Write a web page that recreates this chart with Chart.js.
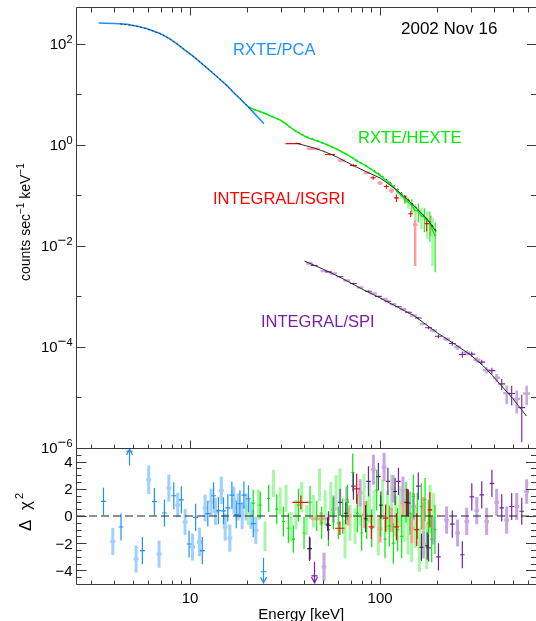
<!DOCTYPE html>
<html><head><meta charset="utf-8">
<script src="https://cdn.jsdelivr.net/npm/chart.js@4.4.1/dist/chart.umd.min.js"></script>
<style>
html,body{margin:0;padding:0;background:#fff;width:536px;height:621px;overflow:hidden;}
canvas{position:absolute;left:0;}
#top{top:0;width:536px;height:462px}
#bot{top:440px;width:536px;height:181px}
</style></head><body>
<canvas id="top" width="536" height="462"></canvas>
<canvas id="bot" width="536" height="181"></canvas>
<script>
// ---------------- axis ranges & ticks ----------------
const X_MIN = 2.54, X_MAX = 662;
const Y_MIN = 1e-6, Y_MAX = 507;
const R_MIN = -5, R_MAX = 5;
const xMajorTicks = [10, 100];
const xMajorLabels = ['10', '100'];
const xMinorTicks = [3,4,5,6,7,8,9,20,30,40,50,60,70,80,90,200,300,400,500,600];
const yDecadeExps = [2, 0, -2, -4, -6];
const yMinorExps = [1, -1, -3, -5];
const rMajorTicks = [-4, -2, 0, 2, 4];
const rMinorTicks = [-4.5,-3.5,-3,-2.5,-1.5,-1,-0.5,0.5,1,1.5,2.5,3,3.5,4.5];

// ---------------- spectra (counts sec^-1 keV^-1) ----------------
const pcaE = [3.3,4.0,4.65,5.2,5.9,6.95,7.8,8.5,9.5,10.4,11.5,12.7,14.0,15.6,17.0,18.3,20.3,22.0,24.5];
const pcaC = [256,251,241,224,200,158,126,100,72,56,40.7,29.5,21.4,14.9,10.7,8.1,5.56,3.98,2.6];
const pcaModE = [4.3,5.2,6.2,7.3,8.5,10,11.5,13,15,17,19,21];
const pcaModC = [245,224,186,145,100,63,40.7,27.5,17,10.7,7.2,4.8];

const hexE = [20.5,22,23.5,25,27,29.5,31.5,33.5,36,38.5,41,44,47,50,53,56,59.5,63,67,71,75,79.5,84,89,94,99.5,105,111,117,123,129,135,141,147,153,159,165,171,177,183,189,195];
const hexC = [5.5,4.9,4.5,4.1,3.6,3.15,2.7,2.25,1.85,1.6,1.42,1.28,1.18,1.08,0.99,0.9,0.81,0.72,0.64,0.56,0.49,0.43,0.385,0.335,0.29,0.25,0.21,0.18,0.148,0.12,0.10,0.085,0.072,0.064,0.05,0.049,0.039,0.037,0.031,0.030,0.020,0.016];
const hexErr = [0.11,0.1,0.09,0.08,0.07,0.06,0.05,0.045,0.04,0.03,0.03,0.025,0.024,0.022,0.02,0.018,0.016,0.015,0.013,0.011,0.01,0.009,0.008,0.007,0.006,0.005,0.006,0.009,0.012,0.012,0.015,0.017,0.018,0.019,0.0175,0.02,0.0175,0.0185,0.017,0.018,0.016,0.013];
const hexModE = [20.5,25,30,35,40,50,60,70,80,90,100,120,140,160,180,197];
const hexModC = [5.5,4.1,3.0,2.0,1.5,1.08,0.8,0.58,0.43,0.33,0.26,0.15,0.085,0.05,0.032,0.02];

const isgE = [35,44.6,54.6,62.8,72.4,85.2,92,100,108,115,122,137,145,153,176,185];
const isgC = [1.05,0.83,0.64,0.49,0.389,0.279,0.222,0.174,0.149,0.124,0.089,0.085,0.043,0.026,0.0275,0.0275];
const isgErr = [0.03,0.03,0.025,0.02,0.02,0.02,0.02,0.015,0.015,0.014,0.015,0.015,0.006,0.022,0.008,0.012];
const isgBin = [3.2,3.5,3.3,2.9,3.0,3.2,3.0,3.2,3.3,3.4,3.6,3.8,4.0,4.2,4.6,4.8];
const isgModE = [36,45,52,60,72,85,100,120,138,160,180,197];
const isgModC = [1.08,0.86,0.71,0.56,0.39,0.29,0.22,0.135,0.085,0.05,0.031,0.019];

const spiE = [42.5,45,50.7,53.5,56.8,61.6,66.8,72.4,78.5,86.9,92.3,98,105,110,117,125,132,141,150,159,169,180,191,203,224,240,256,271,286,304,323,343,364,388,411,437,464,493,524,557,591];
const spiC = [4.47e-3,4.07e-3,3.16e-3,3.05e-3,2.82e-3,2.45e-3,2.07e-3,1.80e-3,1.50e-3,1.26e-3,1.135e-3,1.0e-3,8.9e-4,8.0e-4,7.0e-4,6.24e-4,5.56e-4,4.84e-4,4.2e-4,3.72e-4,2.85e-4,2.4e-4,2.11e-4,1.62e-4,1.43e-4,1.17e-4,9.8e-5,7.1e-5,7.7e-5,7.2e-5,5.6e-5,5.0e-5,3.47e-5,3.39e-5,2.45e-5,1.86e-5,1.23e-5,1.2e-5,9.3e-6,6.3e-6,1.2e-5];
const spiErr = [1.2e-4,1.1e-4,9e-5,9e-5,8e-5,7e-5,6e-5,5e-5,4.5e-5,4e-5,3.5e-5,3e-5,3e-5,2.8e-5,2.5e-5,2.3e-5,2.2e-5,2e-5,1.9e-5,1.8e-5,1.7e-5,1.6e-5,1.5e-5,1.4e-5,1.3e-5,1.2e-5,1.1e-5,1e-5,9e-6,8e-6,7e-6,6e-6,5e-6,5e-6,4.5e-6,4.5e-6,5e-6,5e-6,4.5e-6,5e-6,5e-6];
const spiModE = [40,50,60,80,100,125,150,200,250,300,350,400,450,500,550,590];
const spiModC = [5.0e-3,3.47e-3,2.51e-3,1.41e-3,9.3e-4,6.0e-4,4.2e-4,1.9e-4,1.1e-4,6.9e-5,4.2e-5,2.45e-5,1.48e-5,9.5e-6,6.0e-6,4.3e-6];

// ---------------- residuals (delta chi^2) ----------------
const pcaResE = [3.5,3.92,4.33,5.2,5.61,6.06,6.49,6.87,7.33,7.73,8.21,8.61,9.0,9.41,9.88,10.3,10.7,11.2,11.6,12.0,12.4,12.9,13.3,13.6,14.1,14.6,15.0,15.3,15.8,16.2,16.6,17.0,17.5,17.9,18.3,18.8,19.2,19.7,20.3,20.9,21.5,22.2];
const pcaRes = [1.07,-1.87,-0.81,-3.16,-2.55,2.67,1.05,-2.8,0.22,2.06,1.49,0.81,1.18,-0.44,-2.06,-2.28,-0.1,-1.91,-2.55,0.59,0.17,1.03,1.49,0.34,0.4,1.88,0.37,-0.81,0.6,-1.62,1.53,1.16,0.1,0.66,0.9,0.02,1.53,0.66,1.27,0.05,-0.56,-1.05];
const pcaResErr = [1.0,1.0,1.0,1.0,1.0,1.05,1.0,1.0,1.0,1.0,1.0,0.9,1.0,0.95,1.0,1.0,1.0,1.05,1.0,1.0,0.95,1.0,1.0,1.0,1.0,1.0,1.0,1.0,1.0,1.0,1.0,1.0,1.0,1.0,1.0,1.0,1.0,1.0,1.0,1.0,1.0,1.0];
const pcaUpE = [4.78], pcaUpR = [4.75];
const pcaDownE = [24.2], pcaDownR = [-4.1];

const hexResE = [20.3,21.5,22.9,23.4,24.8,25.9,27.5,28.6,29.8,31.0,32.0,32.9,34.0,35.0,36.1,37.2,38.7,39.8,41.1,42.8,44.6,46.4,48.0,49.3,51.4,53.5,55.0,56.8,58.7,60.3,61.5,63.6,65.4,67.3,69.5,71.8,73.8,76.0,78.5,80.0,82.4,85.1,87.9,90.4,93.0,96.0,97.9,100.7,103.2,106.2,109.3,111.9,115.1,117.5,120.9,123.8,127.4,130.0,133.7,137.0,140.4,143.8,146.8,149.6,153.4,157.1,161.0,164.9,169.0,172.5,176.1,179.6,183.3,187.0,190.8,194.6];
const hexRes = [0.35,0.95,0.85,0.8,-1.5,1.3,2.4,0.5,1.1,-0.4,1.3,-0.9,-0.8,-1.7,0.1,0.8,1.4,-1.25,-0.3,1.0,0.35,0,2.3,-0.5,0.6,-1.0,1.2,0.2,1.7,-0.5,2.2,0,-1.7,1.0,-0.5,3.2,-0.75,0.2,0.7,-1.25,1.7,-0.3,1.0,-0.9,0.5,1.9,-1.5,0,1.2,-1.7,0.35,-0.75,1.45,-2.0,0,-1.0,0.7,-1.5,-0.3,1.0,-1.25,0.2,-1.7,1.45,-0.75,0,-2.5,0.7,-1.25,1.2,-2.2,-0.5,0.5,-1.7,0,-1.0];
const hexResErr = [1.0,1.0,1.1,1.0,1.1,1.0,1.0,1.1,1.0,1.1,1.0,1.1,1.1,1.0,1.1,1.2,1.1,1.2,1.1,1.2,1.2,1.1,1.2,1.2,1.3,1.2,1.3,1.2,1.3,1.2,1.3,1.3,1.4,1.3,1.3,1.4,1.3,1.4,1.4,1.3,1.4,1.4,1.5,1.4,1.4,1.5,1.4,1.5,1.5,1.4,1.5,1.5,1.6,1.5,1.5,1.6,1.5,1.6,1.6,1.5,1.6,1.6,1.7,1.6,1.6,1.7,1.6,1.7,1.7,1.6,1.7,1.7,1.8,1.7,1.7,1.8];

const isgResE = [38.3,48.9,61.5,68,75.3,83,90,100,107,115,122,132,138,147,156,169,183];
const isgRes = [1.0,-0.2,-0.9,0.0,2.0,0.1,-0.8,-0.95,-0.15,-0.3,-0.8,0.95,1.0,-0.9,-1.0,0.2,0.45];
const isgResErr = [0.5,0.5,0.5,0.7,1.1,1.0,0.9,1.0,1.0,0.9,1.0,1.0,1.0,1.1,1.2,1.2,1.3];
const isgResBin = [3.7,5.5,3.5,3.0,3.0,3.0,3.0,3.2,3.3,3.4,3.6,3.8,4.0,4.2,4.4,4.6,4.8];

const spiResE = [42.5,50.7,53.5,56.8,61.6,66.8,72.4,78.5,86.9,92.3,98,105,110,117,125,132,141,150,159,169,180,191,203,224,240,256,271,286,304,323,343,364,388,411,437,464,493,524,557,591];
const spiRes = [-2.4,-3.75,-0.7,0.5,1.0,1.15,2.2,1.7,2.55,3.4,2.9,3.6,2.55,2.0,2.55,1.9,0.95,0.7,2.2,-2.1,-2.35,-1.1,-3.0,-0.3,-0.6,-1.25,-2.85,-0.4,1.4,0.4,1.55,-0.4,2.4,1.0,0.6,-0.3,0.7,0.7,0.35,1.8];
const spiResErr = [0.9,1.05,1.05,1.0,1.0,1.0,1.0,1.0,1.1,1.1,1.0,1.05,1.0,1.0,1.0,1.0,1.0,1.0,1.0,1.0,1.0,1.0,1.0,1.0,1.0,1.0,1.0,1.0,1.0,1.0,1.0,1.0,1.0,1.0,1.0,1.0,1.0,1.0,1.0,0.9];
const spiDownE = [45], spiDownR = [-4.4];

const blkResE = [42.8,53.0,66.0,84.0,101.0,120.0,139.0,165.0,177.0];
const blkRes = [-2.4,-0.6,0.2,-0.2,0.8,1.8,1.0,-2.3,-2.2];
const blkResErr = [0.8,0.5,0.8,1.0,1.0,1.0,1.0,1.0,1.0];

// ---------------- styles ----------------
const FONT = '"Liberation Sans", Arimo, Helvetica, Arial, sans-serif';
const AXIS = '#3a3a3a';
const BLUE = '#1e90ff', BLUE_L = '#9fd0ff';
const GREEN = '#00ee00', GREEN_L = '#a6f7a6';
const RED = '#ff0000', RED_L = '#ff9d9d';
const PURP = '#7322a6', PURP_L = '#c9a6df';
const MODEL = '#2a2a2a';

function mk(E, V, S, B) { return E.map((e, i) => ({ x: e, y: V[i], s: S ? S[i] : 0, b: B ? B[i] : 0 })); }
function lineDs(E, V, color, w, order, extra) {
  return Object.assign({ data: mk(E, V), borderColor: color, borderWidth: w, pointRadius: 0, fill: false, tension: 0, order: order }, extra || {});
}
function crossDs(E, V, S, B, opt) {
  return Object.assign({ data: mk(E, V, S, B), showLine: false, pointRadius: 0, cross: true, order: 9 }, opt);
}

const crossPlugin = {
  id: 'crosses',
  beforeDatasetsDraw(chart) {
    const { ctx, chartArea: a, scales } = chart;
    const xs = scales.x, ys = scales.y;
    const logY = ys.type === 'logarithmic';
    ctx.save();
    ctx.beginPath(); ctx.rect(a.left, a.top, a.right - a.left, a.bottom - a.top); ctx.clip();
    for (const pass of [0, 1]) {
      chart.data.datasets.forEach(ds => {
        if (!ds.cross) return;
        ds.data.forEach((p, i) => {
          const isLight = ds.lightAll ? true : (i % 2 === ds.lightParity);
          if ((pass === 0) !== isLight) return;
          ctx.strokeStyle = isLight ? ds.light : ds.dark;
          ctx.lineWidth = isLight ? ds.lwLight : ds.lwDark;
          const px = xs.getPixelForValue(p.x), py = ys.getPixelForValue(p.y);
          let xl, xh;
          if (ds.binDex) { xl = p.x / Math.pow(10, ds.binDex); xh = p.x * Math.pow(10, ds.binDex); }
          else { xl = p.x - p.b; xh = p.x + p.b; }
          let yl = p.y - p.s, yh = p.y + p.s;
          if (logY && yl <= 0) yl = ys.min;
          ctx.beginPath();
          ctx.moveTo(xs.getPixelForValue(xl), py); ctx.lineTo(xs.getPixelForValue(xh), py);
          ctx.moveTo(px, ys.getPixelForValue(yl)); ctx.lineTo(px, ys.getPixelForValue(yh));
          ctx.stroke();
        });
      });
    }
    ctx.restore();
  }
};

function runs(ctx, parts, x, y) {
  let cx = x;
  for (const [t, sz, dy] of parts) {
    ctx.font = sz + 'px ' + FONT;
    ctx.fillText(t, cx, y + dy);
    cx += ctx.measureText(t).width;
  }
  return cx - x;
}
function runsWidth(ctx, parts) {
  let w = 0;
  for (const [t, sz] of parts) { ctx.font = sz + 'px ' + FONT; w += ctx.measureText(t).width; }
  return w;
}

function xTickMarks(ctx, xs, yEdge, dir, lenMajor, lenMinor) {
  ctx.beginPath();
  xMinorTicks.forEach(v => { const px = Math.round(xs.getPixelForValue(v)) + 0.5; ctx.moveTo(px, yEdge); ctx.lineTo(px, yEdge + dir * lenMinor); });
  xMajorTicks.forEach(v => { const px = Math.round(xs.getPixelForValue(v)) + 0.5; ctx.moveTo(px, yEdge); ctx.lineTo(px, yEdge + dir * lenMajor); });
  ctx.stroke();
}
function yTickMarks(ctx, ys, vals, L, R, len) {
  ctx.beginPath();
  vals.forEach(v => {
    const py = Math.round(ys.getPixelForValue(v)) + 0.5;
    ctx.moveTo(L, py); ctx.lineTo(L + len, py);
    ctx.moveTo(R, py); ctx.lineTo(R - len, py);
  });
  ctx.stroke();
}

const topDecor = {
  id: 'topDecor',
  afterDraw(chart) {
    const { ctx, chartArea: a, scales: { x, y } } = chart;
    ctx.save();
    ctx.strokeStyle = AXIS; ctx.lineWidth = 1;
    const L = a.left - 0.5, T = a.top - 0.5, B = a.bottom + 0.5, R = a.right;
    ctx.beginPath();
    ctx.moveTo(L, T); ctx.lineTo(R, T);
    ctx.moveTo(L, B); ctx.lineTo(R, B);
    ctx.moveTo(L, T); ctx.lineTo(L, B);
    ctx.stroke();
    xTickMarks(ctx, x, T, 1, 8, 5);
    xTickMarks(ctx, x, B, -1, 8, 4);
    yTickMarks(ctx, y, yDecadeExps.map(e => Math.pow(10, e)), L, R, 9);
    yTickMarks(ctx, y, yMinorExps.map(e => Math.pow(10, e)), L, R, 5);

    ctx.fillStyle = '#000';
    ctx.textBaseline = 'alphabetic';
    yDecadeExps.forEach(e => {
      const py = y.getPixelForValue(Math.pow(10, e));
      const parts = [['10', 15, 0]];
      if (e < 0) { parts.push(['\u2212', 15, -6]); parts.push([String(-e), 11, -6]); }
      else parts.push([String(e), 11, -6]);
      const w = runsWidth(ctx, parts);
      runs(ctx, parts, 72.5 - w, py + 5.4);
    });
    // y title
    ctx.save();
    ctx.translate(29.5, 281);
    ctx.rotate(-Math.PI / 2);
    runs(ctx, [['counts sec', 14, 0], ['\u22121', 10, -6], [' keV', 14, 0], ['\u22121', 10, -6]], 0, 0);
    ctx.restore();
    // annotations
    ctx.font = '17px ' + FONT; ctx.fillStyle = '#000';
    ctx.fillText('2002 Nov 16', 401, 34.3);
    ctx.font = '16.5px ' + FONT;
    ctx.fillStyle = BLUE; ctx.fillText('RXTE/PCA', 233, 55);
    ctx.fillStyle = GREEN; ctx.fillText('RXTE/HEXTE', 358, 143.3);
    ctx.fillStyle = RED; ctx.fillText('INTEGRAL/ISGRI', 213, 204);
    ctx.fillStyle = PURP; ctx.fillText('INTEGRAL/SPI', 261, 326.7);
    ctx.restore();
  }
};

function arrow(ctx, xs, ys, e, r, dir, color) {
  const px = Math.round(xs.getPixelForValue(e)) + 0.5;
  const py = ys.getPixelForValue(r);
  const tip = dir > 0 ? ys.getPixelForValue(R_MAX) + 1 : ys.getPixelForValue(R_MIN) - 1;
  ctx.strokeStyle = color; ctx.lineWidth = 1.2;
  ctx.beginPath();
  ctx.moveTo(px, py + dir * 14); ctx.lineTo(px, tip);
  ctx.moveTo(px - 3, py); ctx.lineTo(px + 3, py);
  ctx.moveTo(px - 3, tip + dir * 6); ctx.lineTo(px, tip); ctx.lineTo(px + 3, tip + dir * 6);
  ctx.stroke();
}

const botDecor = {
  id: 'botDecor',
  afterDatasetsDraw(chart) {
    const { ctx, scales: { x, y } } = chart;
    ctx.save();
    arrow(ctx, x, y, pcaUpE[0], pcaUpR[0], 1, BLUE);
    arrow(ctx, x, y, pcaDownE[0], pcaDownR[0], -1, BLUE);
    arrow(ctx, x, y, spiDownE[0], spiDownR[0], -1, PURP);
    ctx.restore();
  },
  afterDraw(chart) {
    const { ctx, chartArea: a, scales: { x, y } } = chart;
    ctx.save();
    ctx.strokeStyle = AXIS; ctx.lineWidth = 1;
    const L = a.left - 0.5, T = a.top + 0.5, B = a.bottom + 0.5, R = a.right;
    ctx.beginPath();
    ctx.moveTo(L, T); ctx.lineTo(R, T);
    ctx.moveTo(L, B); ctx.lineTo(R, B);
    ctx.moveTo(L, T); ctx.lineTo(L, B);
    ctx.stroke();
    xTickMarks(ctx, x, B, -1, 7, 4);
    yTickMarks(ctx, y, rMajorTicks, L, R, 10);
    yTickMarks(ctx, y, rMinorTicks, L, R, 5);

    ctx.fillStyle = '#000';
    ctx.textBaseline = 'alphabetic';
    ctx.font = '15px ' + FONT;
    ctx.textAlign = 'right';
    rMajorTicks.forEach(v => {
      const py = y.getPixelForValue(v);
      ctx.fillText(v < 0 ? '\u2212' + (-v) : String(v), 72.5, py + 5.4);
    });
    ctx.textAlign = 'center';
    xMajorTicks.forEach((v, i) => {
      ctx.fillText(xMajorLabels[i], x.getPixelForValue(v), 163.3);
    });
    ctx.textAlign = 'left';
    ctx.fillText('Energy [keV]', 258.3, 179);
    // y title  Δ χ²
    ctx.save();
    ctx.translate(30.5, 91);
    ctx.rotate(-Math.PI / 2);
    ctx.font = '17px ' + FONT;
    ctx.fillText('\u0394', 0, 0);
    ctx.fillText('\u03c7', 21, 0);
    ctx.font = '11px ' + FONT;
    ctx.fillText('2', 32, -8);
    ctx.restore();
    ctx.restore();
  }
};

const common = {
  responsive: false, maintainAspectRatio: false, animation: false, devicePixelRatio: 1,
  events: [],
  plugins: { legend: { display: false }, tooltip: { enabled: false } },
};

new Chart(document.getElementById('top'), {
  type: 'line',
  data: {
    datasets: [
      crossDs(isgE, isgC, isgErr, isgBin, { light: RED_L, dark: RED, lwLight: 2.5, lwDark: 1.1, lightParity: 1 }),
      crossDs(spiE, spiC, spiErr, null, { light: PURP_L, dark: PURP, lwLight: 2.5, lwDark: 1.1, lightParity: 0, binDex: 0.018 }),
      crossDs(hexE, hexC, hexErr, null, { light: GREEN_L, dark: GREEN, lwLight: 2.5, lwDark: 1.1, lightParity: 0, binDex: 0.006 }),
      lineDs(pcaE, pcaC, BLUE, 1.6, 5),
      lineDs(hexE, hexC, GREEN, 1.4, 5),
      lineDs(pcaModE, pcaModC, MODEL, 1, 1, { borderDash: [2, 2] }),
      lineDs(hexModE, hexModC, MODEL, 1, 6, { borderDash: [2, 3] }),
      lineDs(isgModE, isgModC, MODEL, 1, 1),
      lineDs(spiModE, spiModC, MODEL, 1, 1),
    ]
  },
  options: Object.assign({}, common, {
    layout: { padding: { left: 77, right: 0, top: 8, bottom: 14 } },
    scales: {
      x: { type: 'logarithmic', min: X_MIN, max: X_MAX, display: false },
      y: { type: 'logarithmic', min: Y_MIN, max: Y_MAX, display: false }
    }
  }),
  plugins: [crossPlugin, topDecor]
});

new Chart(document.getElementById('bot'), {
  type: 'line',
  data: {
    datasets: [
      crossDs(pcaResE, pcaRes, pcaResErr, null, { light: BLUE_L, dark: BLUE, lwLight: 3, lwDark: 1.2, lightParity: 1, binDex: 0.013 }),
      crossDs(hexResE, hexRes, hexResErr, null, { light: GREEN_L, dark: GREEN, lwLight: 3, lwDark: 1.2, lightParity: 0, binDex: 0.008 }),
      crossDs(isgResE, isgRes, isgResErr, isgResBin, { light: RED_L, dark: RED, lwLight: 3, lwDark: 1.2, lightParity: 1 }),
      crossDs(spiResE, spiRes, spiResErr, null, { light: PURP_L, dark: PURP, lwLight: 3, lwDark: 1.2, lightParity: 1, binDex: 0.012 }),
      crossDs(blkResE, blkRes, blkResErr, null, { light: '#888', dark: '#222', lwLight: 1, lwDark: 1, lightParity: 2, binDex: 0.01 }),
      { data: [{ x: X_MIN, y: 0 }, { x: X_MAX, y: 0 }], borderColor: '#222', borderWidth: 1, borderDash: [8, 4], pointRadius: 0, order: 0 }
    ]
  },
  options: Object.assign({}, common, {
    layout: { padding: { left: 77, right: 0, top: 8, bottom: 37 } },
    scales: {
      x: { type: 'logarithmic', min: X_MIN, max: X_MAX, display: false },
      y: { type: 'linear', min: R_MIN, max: R_MAX, display: false }
    }
  }),
  plugins: [crossPlugin, botDecor]
});
</script>
</body></html>
